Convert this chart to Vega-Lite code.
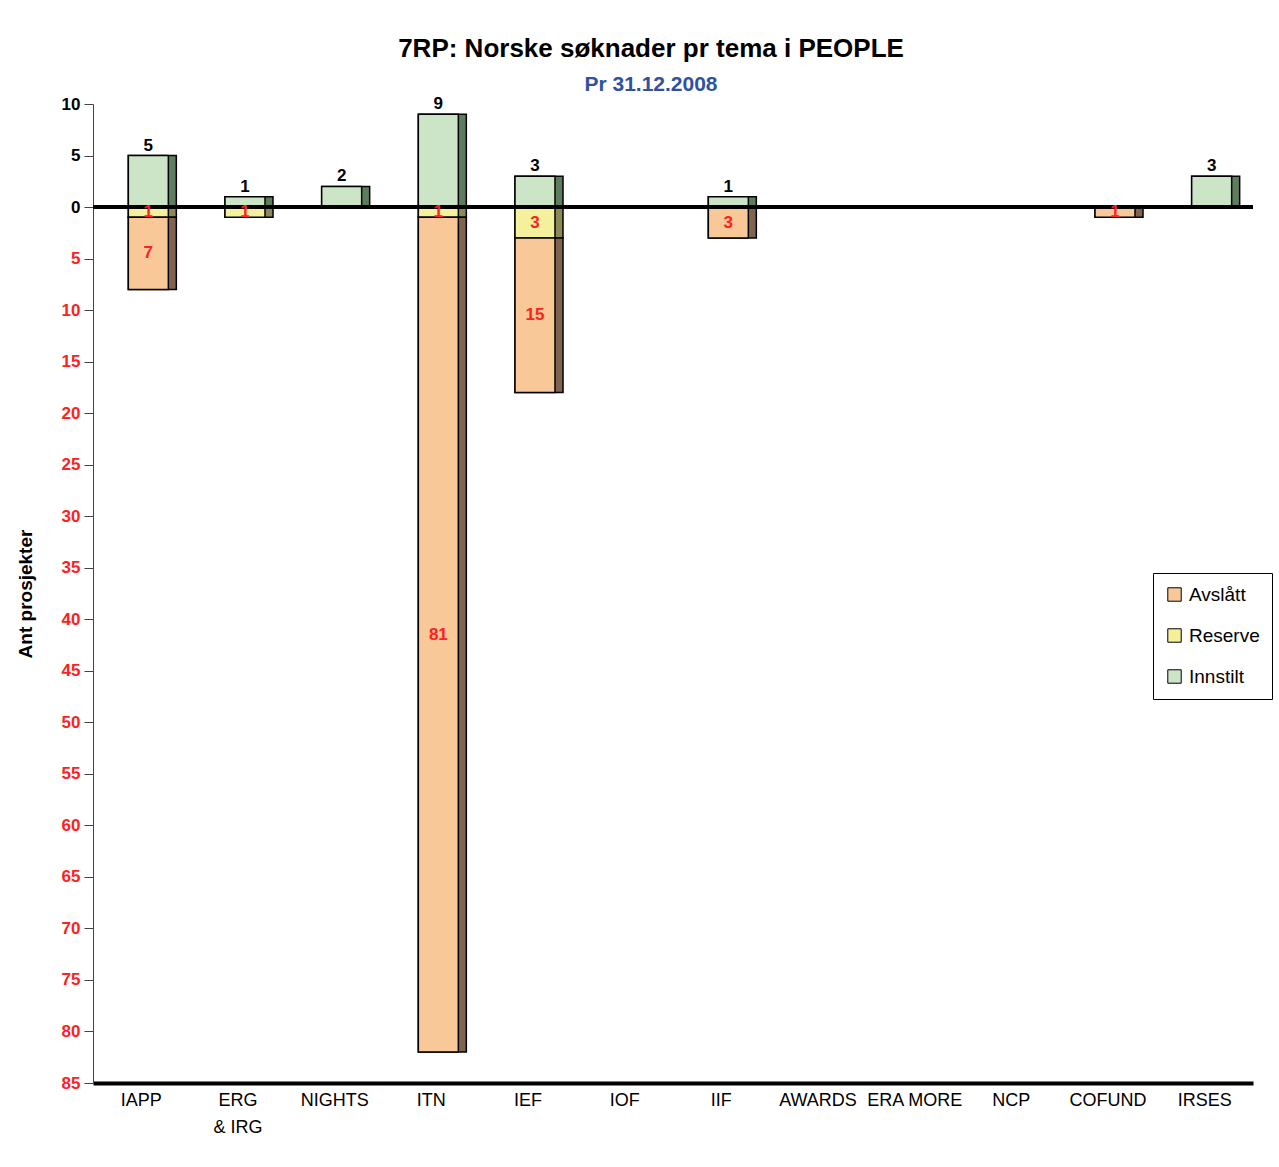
{
  "$schema": "https://vega.github.io/schema/vega-lite/v6.json",
  "width": 1160,
  "height": 979,
  "padding": {"left": 16, "top": 36, "right": 10, "bottom": 10},
  "background": "white",
  "title": {
    "text": "7RP: Norske søknader pr tema i PEOPLE",
    "subtitle": "Pr 31.12.2008",
    "anchor": "middle",
    "dx": -22,
    "font": "Liberation Sans",
    "fontSize": 26,
    "fontWeight": "bold",
    "color": "black",
    "subtitleFont": "Liberation Sans",
    "subtitleFontSize": 21,
    "subtitleFontWeight": "bold",
    "subtitleColor": "#3050A0",
    "subtitlePadding": 12,
    "offset": 0
  },
  "data": {
    "values": [
      {"tema": "IAPP", "status": "Innstilt", "n": 5},
      {"tema": "IAPP", "status": "Reserve", "n": -1},
      {"tema": "IAPP", "status": "Avslått", "n": -7},
      {"tema": "ERG & IRG", "status": "Innstilt", "n": 1},
      {"tema": "ERG & IRG", "status": "Reserve", "n": -1},
      {"tema": "NIGHTS", "status": "Innstilt", "n": 2},
      {"tema": "ITN", "status": "Innstilt", "n": 9},
      {"tema": "ITN", "status": "Reserve", "n": -1},
      {"tema": "ITN", "status": "Avslått", "n": -81},
      {"tema": "IEF", "status": "Innstilt", "n": 3},
      {"tema": "IEF", "status": "Reserve", "n": -3},
      {"tema": "IEF", "status": "Avslått", "n": -15},
      {"tema": "IIF", "status": "Innstilt", "n": 1},
      {"tema": "IIF", "status": "Avslått", "n": -3},
      {"tema": "COFUND", "status": "Avslått", "n": -1},
      {"tema": "IRSES", "status": "Innstilt", "n": 3}
    ]
  },
  "transform": [
    {"calculate": "indexof(['Reserve','Avslått','Innstilt'], datum.status)", "as": "ord"},
    {"stack": "n", "groupby": ["tema"], "sort": [{"field": "ord"}], "as": ["y0", "y1"]},
    {"calculate": "(datum.y0 + datum.y1) / 2", "as": "mid"},
    {"calculate": "abs(datum.n)", "as": "lab"}
  ],
  "encoding": {
    "x": {
      "field": "tema",
      "type": "nominal",
      "sort": null,
      "scale": {
        "domain": ["IAPP", "ERG & IRG", "NIGHTS", "ITN", "IEF", "IOF", "IIF", "AWARDS", "ERA MORE", "NCP", "COFUND", "IRSES"],
        "paddingInner": 0,
        "paddingOuter": 0
      },
      "axis": {
        "title": null,
        "labelAngle": 0,
        "labelFont": "Liberation Sans",
        "labelFontSize": 18,
        "labelColor": "black",
        "labelPadding": 8,
        "labelLineHeight": 27,
        "labelExpr": "datum.label == 'ERG & IRG' ? ['ERG', '& IRG'] : datum.label",
        "ticks": false,
        "domainColor": "black",
        "domainWidth": 4,
        "grid": false
      }
    }
  },
  "layer": [
    {
      "mark": {"type": "bar", "width": 48, "xOffset": 11, "stroke": "black", "strokeWidth": 1.5},
      "encoding": {
        "y": {
          "field": "y0",
          "type": "quantitative",
          "scale": {"domain": [-85, 10], "nice": false, "zero": false},
          "axis": {
            "title": "Ant prosjekter",
            "titleFont": "Liberation Sans",
            "titleFontSize": 19,
            "titleFontWeight": "bold",
            "titleColor": "black",
            "titlePadding": 26,
            "values": [-85, -80, -75, -70, -65, -60, -55, -50, -45, -40, -35, -30, -25, -20, -15, -10, -5, 0, 5, 10],
            "labelExpr": "abs(datum.value)",
            "labelFont": "Liberation Sans",
            "labelFontSize": 17,
            "labelFontWeight": "bold",
            "labelColor": {"condition": {"test": "datum.value < 0", "value": "#FF2020"}, "value": "black"},
            "labelPadding": 4,
            "tickSize": 9,
            "tickColor": "#444444",
            "domainColor": "#444444",
            "domainWidth": 1,
            "grid": false
          }
        },
        "y2": {"field": "y1"},
        "color": {
          "field": "status",
          "type": "nominal",
          "scale": {"domain": ["Avslått", "Reserve", "Innstilt"], "range": ["#7F6550", "#8A8A58", "#5E7D5E"]},
          "legend": null
        }
      }
    },
    {
      "mark": {"type": "bar", "width": 40, "xOffset": 7, "stroke": "black", "strokeWidth": 1.5},
      "encoding": {
        "y": {"field": "y0", "type": "quantitative"},
        "y2": {"field": "y1"},
        "color": {
          "field": "status",
          "type": "nominal",
          "scale": {"domain": ["Avslått", "Reserve", "Innstilt"], "range": ["#F9C898", "#F4F09C", "#CCE5C6"]},
          "legend": {
            "title": null,
            "orient": "none",
            "legendX": 1060,
            "legendY": 469,
            "strokeColor": "black",
            "fillColor": "white",
            "padding": 12,
            "symbolType": "square",
            "symbolSize": 180,
            "symbolStrokeColor": "black",
            "symbolStrokeWidth": 1,
            "symbolOpacity": 1,
            "labelFont": "Liberation Sans",
            "labelFontSize": 19,
            "labelColor": "black",
            "rowPadding": 21,
            "labelOffset": 5
          }
        }
      }
    },
    {
      "data": {"values": [{}]},
      "mark": {"type": "rule", "strokeWidth": 4, "color": "black"},
      "encoding": {"y": {"datum": 0, "type": "quantitative"}, "x": null}
    },
    {
      "transform": [{"filter": "datum.n < 0"}],
      "mark": {"type": "text", "xOffset": 7, "font": "Liberation Sans", "fontSize": 17, "fontWeight": "bold", "color": "#FF2020", "baseline": "middle"},
      "encoding": {
        "y": {"field": "mid", "type": "quantitative"},
        "text": {"field": "lab", "type": "quantitative"}
      }
    },
    {
      "transform": [{"filter": "datum.n > 0"}],
      "mark": {"type": "text", "xOffset": 7, "dy": -10, "font": "Liberation Sans", "fontSize": 17, "fontWeight": "bold", "color": "black", "baseline": "middle"},
      "encoding": {
        "y": {"field": "y1", "type": "quantitative"},
        "text": {"field": "lab", "type": "quantitative"}
      }
    }
  ],
  "resolve": {"scale": {"color": "independent"}, "legend": {"color": "independent"}},
  "config": {"view": {"stroke": null}}
}
